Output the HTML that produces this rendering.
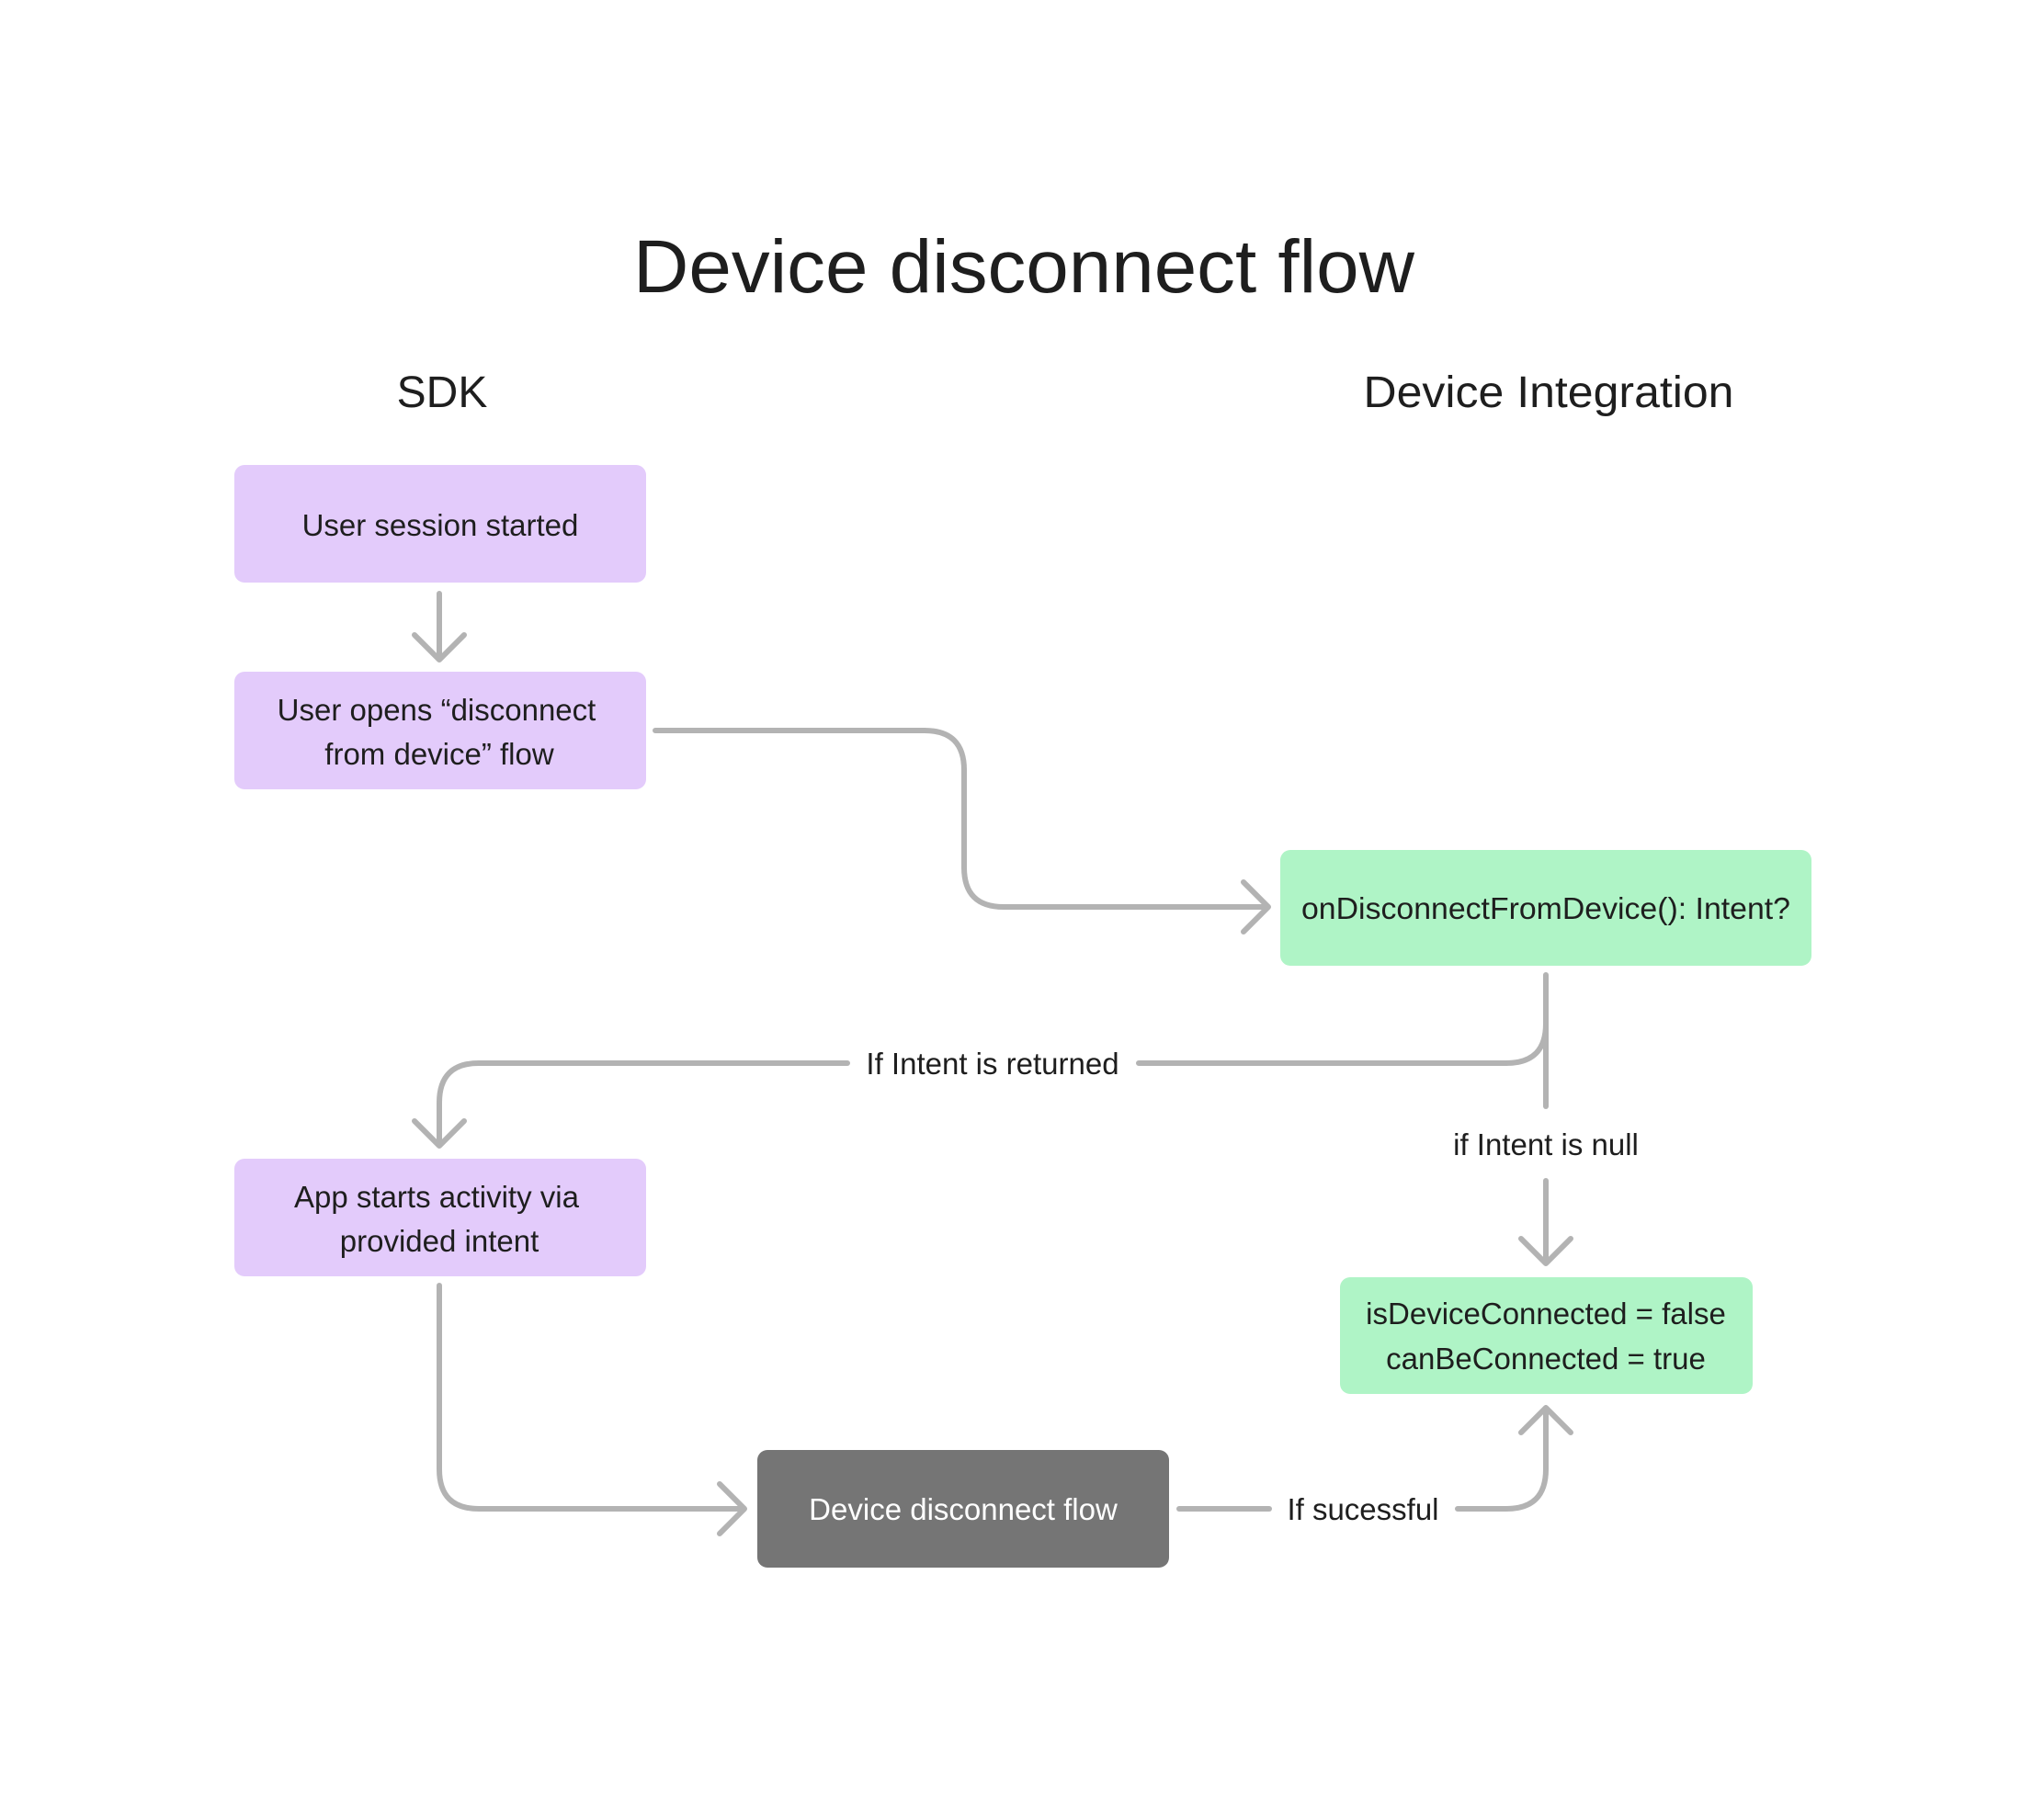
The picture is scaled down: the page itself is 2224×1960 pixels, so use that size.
<!DOCTYPE html>
<html><head><meta charset="utf-8"><style>
html,body{margin:0;padding:0;background:#fff}
svg{display:block}
text{font-family:"Liberation Sans",sans-serif;fill:#1e1e1e}
</style></head><body>
<svg width="2224" height="1960" viewBox="0 0 2224 1960" xmlns="http://www.w3.org/2000/svg">
<rect width="2224" height="1960" fill="#fff"/>
<text x="1114" y="318" font-size="82" text-anchor="middle" textLength="850" lengthAdjust="spacingAndGlyphs">Device disconnect flow</text>
<text x="481" y="443" font-size="48" text-anchor="middle">SDK</text>
<text x="1685" y="443" font-size="48" text-anchor="middle" textLength="403" lengthAdjust="spacingAndGlyphs">Device Integration</text>
<g transform="translate(-3,-3)">
<g fill="#e3cbfb">
<rect x="258" y="509" width="448" height="128" rx="11"/>
<rect x="258" y="734" width="448" height="128" rx="11"/>
<rect x="258" y="1264" width="448" height="128" rx="11"/>
</g>
<g fill="#aff4c6">
<rect x="1396" y="928" width="578" height="126" rx="11"/>
<rect x="1461" y="1393" width="449" height="127" rx="11"/>
</g>
<rect x="827" y="1581" width="448" height="128" rx="11" fill="#757575"/>

<g font-size="33" text-anchor="middle">
<text x="482" y="586">User session started</text>
<text x="478" y="787">User opens “disconnect</text>
<text x="481" y="835">from device” flow</text>
<text x="478" y="1317">App starts activity via</text>
<text x="481" y="1365">provided intent</text>
<text x="1685" y="1003" textLength="532" lengthAdjust="spacingAndGlyphs">onDisconnectFromDevice(): Intent?</text>
<text x="1685" y="1444">isDeviceConnected = false</text>
<text x="1685" y="1493">canBeConnected = true</text>
<text x="1051" y="1657" style="fill:#fff">Device disconnect flow</text>
<text x="1083" y="1172">If Intent is returned</text>
<text x="1685" y="1260">if Intent is null</text>
<text x="1486" y="1657">If sucessful</text>
</g>

<g fill="none" stroke="#b3b3b3" stroke-width="6" stroke-linecap="round" stroke-linejoin="round">
<path d="M481 649 V721 M454 694 L481 721 L508 694"/>
<path d="M716 798 H1009 Q1052 798 1052 841 V947 Q1052 990 1095 990 H1382 M1356 963 L1383 990 L1356 1017"/>
<path d="M1685 1064 V1117 Q1685 1160 1642 1160 H1242"/>
<path d="M925 1160 H524 Q481 1160 481 1203 V1250 M454 1223 L481 1250 L508 1223"/>
<path d="M1685 1117 V1207"/>
<path d="M1685 1288 V1378 M1658 1351 L1685 1378 L1712 1351"/>
<path d="M481 1402 V1602 Q481 1645 524 1645 H813 M786 1618 L813 1645 L786 1672"/>
<path d="M1286 1645 H1384"/>
<path d="M1589 1645 H1642 Q1685 1645 1685 1602 V1535 M1658 1562 L1685 1535 L1712 1562"/>
</g>
</g>
</svg>
</body></html>
